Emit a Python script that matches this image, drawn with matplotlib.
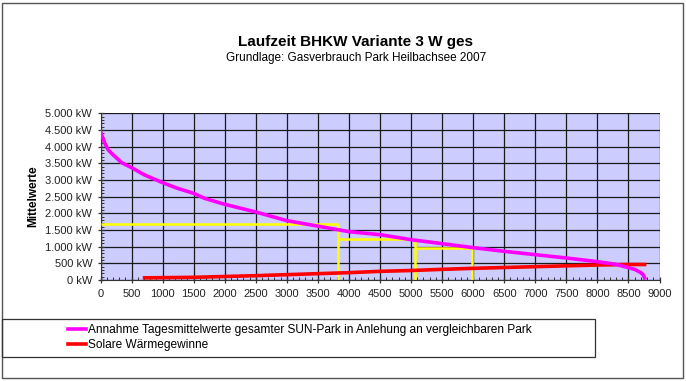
import matplotlib
matplotlib.use("Agg")
import matplotlib.pyplot as plt
from matplotlib.patches import Rectangle
from matplotlib.ticker import MultipleLocator, FuncFormatter

plt.rcParams['font.family'] = ['Liberation Sans', 'DejaVu Sans']

# Data
demand_x = [0, 70, 125, 205, 340, 500, 710, 1000, 1240, 1500, 1675, 2000, 2500, 3000,
            3500, 4000, 4500, 5000, 5500, 6000, 6500, 7000, 7500, 8000, 8300, 8500,
            8600, 8700, 8740, 8760]
demand_y = [4440, 4100, 3900, 3750, 3520, 3370, 3150, 2920, 2750, 2600, 2450, 2270, 2040, 1780,
            1615, 1450, 1360, 1210, 1090, 970, 860, 760, 660, 550, 470, 370,
            320, 220, 150, 60]
solar_x = [710, 1000, 1500, 2000, 2500, 3000, 3500, 4000, 4500, 5000, 5500, 6000,
           6500, 7000, 7500, 8000, 8500, 8760]
solar_y = [65, 70, 80, 105, 130, 160, 190, 220, 260, 285, 320, 350,
           375, 400, 425, 450, 465, 465]
# BHKW steps: (start hour, end hour, level kW)
step_start = [0, 3830, 5060]
step_end = [3830, 5060, 5975]
step_level = [1670, 1230, 950]

title = "Laufzeit BHKW Variante 3 W ges"
subtitle = "Grundlage: Gasverbrauch Park Heilbachsee 2007"
ylabel = "Mittelwerte"
label_demand = "Annahme Tagesmittelwerte gesamter SUN-Park in Anlehung an vergleichbaren Park"
label_solar = "Solare Wärmegewinne"

W, H = 686, 381
fig = plt.figure(figsize=(W / 100, H / 100), dpi=100)
ax = fig.add_axes([100.5 / W, 1 - 280 / H, 559 / W, 166.7 / H])
ax.set_facecolor('#ccccff')

for s, e, lv in zip(step_start, step_end, step_level):
    ax.plot([s, e], [lv, lv], color='#ffff00', lw=1.8, zorder=3, solid_capstyle='butt')
    ax.plot([e, e], [0, lv], color='#ffff00', lw=1.8, zorder=3, solid_capstyle='butt')

ax.plot(solar_x, solar_y, color='#ff0000', lw=2.6, zorder=4, label=label_solar)
ax.plot(demand_x, demand_y, color='#ff00ff', lw=2.6, zorder=5, label=label_demand)

ax.set_xlim(0, 9000)
ax.set_ylim(0, 5000)
ax.xaxis.set_major_locator(MultipleLocator(500))
ax.xaxis.set_minor_locator(MultipleLocator(100))
ax.yaxis.set_major_locator(MultipleLocator(500))
ax.yaxis.set_minor_locator(MultipleLocator(100))
ax.yaxis.set_major_formatter(FuncFormatter(lambda v, p: f"{int(v):,} kW".replace(",", ".")))
ax.xaxis.set_major_formatter(FuncFormatter(lambda v, p: f"{int(v)}"))
ax.grid(True, which='major', color='#1a1a1a', lw=0.9, zorder=1)
ax.set_axisbelow(True)
for sp in ['top', 'right']:
    ax.spines[sp].set_visible(False)
for sp in ['left', 'bottom']:
    ax.spines[sp].set_color('#333333')
ax.tick_params(which='major', direction='inout', length=5, width=0.9, labelsize=8, colors='#333333', labelcolor='#222222')
ax.tick_params(which='minor', direction='in', length=2.5, width=0.7, colors='#333333')
ax.tick_params(axis='x', which='major', pad=4)
ax.set_ylabel(ylabel, fontsize=8.5, fontweight='bold', labelpad=4)

fig.text(355 / W, 1 - 42 / H, title, ha='center', va='center', fontsize=11, fontweight='bold')
fig.text(356 / W, 1 - 58 / H, subtitle, ha='center', va='center', fontsize=8.5)

# outer frame
fig.patches.append(Rectangle((2 / W, 3 / H), 681 / W, 375 / H, transform=fig.transFigure,
                             fill=False, edgecolor='#555555', lw=1.0))
# legend frame
fig.patches.append(Rectangle((2 / W, 1 - 357 / H), 593 / W, 38 / H, transform=fig.transFigure,
                             fill=False, edgecolor='#333333', lw=0.9))
h, l = ax.get_legend_handles_labels()
fig.legend(h[::-1], l[::-1], loc='upper left', bbox_to_anchor=(63 / W, 1 - 319 / H),
           frameon=False, fontsize=8.6, handlelength=1.5, handletextpad=0.2,
           labelspacing=0.3, borderaxespad=0)

fig.savefig('out.png', dpi=100)
